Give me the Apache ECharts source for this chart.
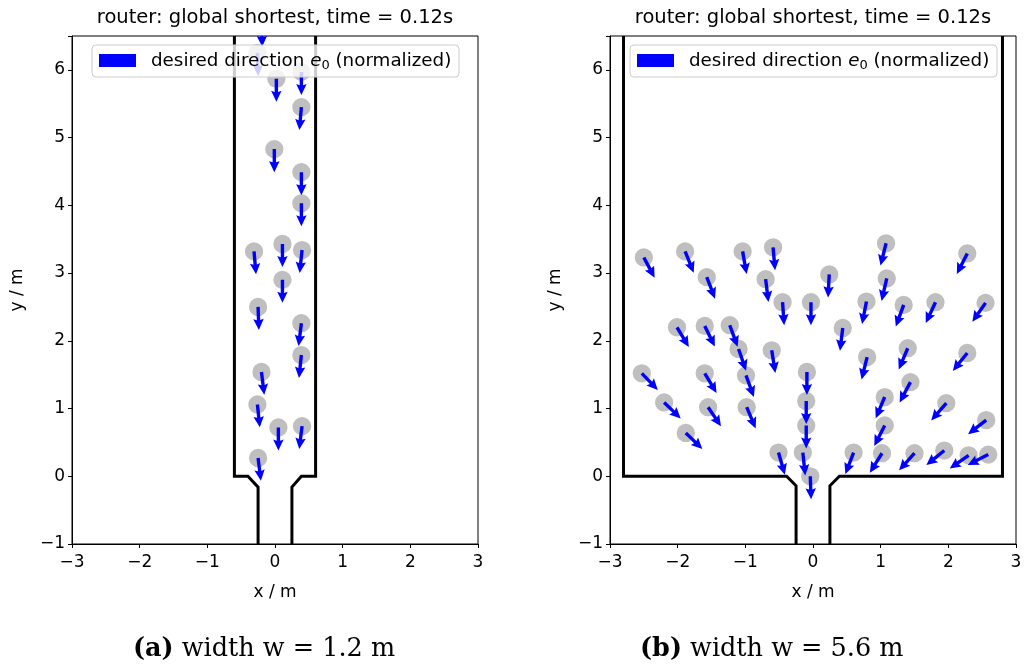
<!DOCTYPE html>
<html>
<head>
<meta charset="utf-8">
<script src="https://cdn.jsdelivr.net/npm/echarts@6/dist/echarts.min.js"></script>
<style>
html,body{margin:0;padding:0;background:#fff;}
#chart{width:1027px;height:668px;}
</style>
</head>
<body>
<div id="chart"></div>
<script>
// ---------- data ----------
const titles = ['router: global shortest, time = 0.12s', 'router: global shortest, time = 0.12s'];
const captionsBold = ['(a)', '(b)'];
const captionsText = [' width w = 1.2 m', ' width w = 5.6 m'];
const xTicks = [-3, -2, -1, 0, 1, 2, 3];
const yTicks = [-1, 0, 1, 2, 3, 4, 5, 6];
const xRange = [-3, 3];
const yRange = [-1, 6.5];

// walls: [x, y] polylines
const leftWallA = [[-0.6, 6.5], [-0.6, 0], [-0.4, 0], [-0.25, -0.16], [-0.25, -1]];
const leftWallB = [[0.6, 6.5], [0.6, 0], [0.39, 0], [0.25, -0.16], [0.25, -1]];
const rightWallA = [[-2.8, 6.5], [-2.8, 0], [-0.39, 0], [-0.25, -0.14], [-0.25, -1]];
const rightWallB = [[2.8, 6.5], [2.8, 0], [0.39, 0], [0.25, -0.14], [0.25, -1]];

// agents: [x, y, direction angle in degrees]
const leftAgents = [
  [-0.20, 6.68, -88], [-0.26, 6.25, -88], [0.02, 5.87, -90], [0.39, 5.97, -90],
  [0.39, 5.45, -95], [-0.01, 4.83, -90], [0.39, 4.49, -90], [0.39, 4.03, -90],
  [-0.31, 3.32, -85], [0.11, 3.43, -90], [0.40, 3.34, -96], [0.11, 2.90, -90],
  [-0.25, 2.50, -88], [0.39, 2.26, -97], [0.39, 1.79, -96], [-0.20, 1.54, -83],
  [-0.26, 1.06, -84], [0.05, 0.72, -90], [0.40, 0.74, -97], [-0.25, 0.27, -83]
];
const rightAgents = [
  [-2.50, 3.23, -62], [-1.89, 3.32, -68], [-1.57, 2.94, -69], [-1.04, 3.32, -80],
  [-0.59, 3.38, -85], [-0.70, 2.91, -83], [-0.45, 2.57, -86], [-0.03, 2.57, -90],
  [-2.01, 2.20, -59], [-1.60, 2.22, -64], [-1.23, 2.23, -70], [-1.10, 1.88, -71],
  [-0.61, 1.86, -81], [-2.53, 1.52, -46], [-1.60, 1.52, -59], [-0.99, 1.49, -70],
  [-0.09, 1.54, -90], [-2.20, 1.09, -44], [-1.55, 1.02, -56], [-0.98, 1.02, -67],
  [-1.88, 0.64, -44], [-0.51, 0.35, -74], [-0.10, 1.11, -90], [-0.10, 0.75, -90],
  [-0.15, 0.35, -84], [-0.04, 0.00, -88],
  [1.08, 3.44, -104], [2.28, 3.29, -117], [0.24, 2.98, -93], [1.09, 2.92, -103],
  [0.79, 2.58, -101], [1.34, 2.53, -110], [1.81, 2.57, -115], [2.55, 2.56, -125],
  [0.44, 2.19, -97], [0.80, 1.76, -104], [1.40, 1.89, -113], [2.28, 1.82, -129],
  [1.44, 1.39, -118], [1.06, 1.17, -113], [1.97, 1.08, -131], [2.56, 0.83, -142],
  [1.06, 0.75, -117], [0.60, 0.35, -111], [1.02, 0.34, -122], [1.50, 0.34, -132],
  [1.94, 0.38, -141], [2.30, 0.31, -145], [2.59, 0.32, -153]
];

// ---------- rendering ----------
const AGENT_R = 0.135;
const ARROW_LEN = 0.34;
const FONT = 'DejaVu Sans';
const fmt = v => String(v).replace('-', '\u2212');

function clipOf(params) {
  const cs = params.coordSys;
  return {type: 'rect', shape: {x: cs.x, y: cs.y, width: cs.width, height: cs.height}};
}
function circleItem(params, api) {
  const c = api.coord([api.value(0), api.value(1)]);
  const r = api.size([AGENT_R, 0])[0];
  return {type: 'group', clipPath: clipOf(params), children: [
    {type: 'circle', shape: {cx: c[0], cy: c[1], r: r}, style: {fill: '#bfbfbf'}}
  ]};
}
function arrowItem(params, api) {
  const x = api.value(0), y = api.value(1), a = api.value(2) * Math.PI / 180;
  const p0 = api.coord([x, y]);
  const p1 = api.coord([x + ARROW_LEN * Math.cos(a), y + ARROW_LEN * Math.sin(a)]);
  const dx = p1[0] - p0[0], dy = p1[1] - p0[1];
  const len = Math.hypot(dx, dy);
  const ux = dx / len, uy = dy / len, nx = -uy, ny = ux;
  const hw = 1.7, HW = 5.2, HL = 11;
  const bx = p1[0] - ux * HL, by = p1[1] - uy * HL;
  const nb = 1.2;
  const pts = [
    [p0[0] + nx * hw, p0[1] + ny * hw],
    [bx + ux * nb + nx * hw, by + uy * nb + ny * hw],
    [bx + nx * HW, by + ny * HW],
    [p1[0], p1[1]],
    [bx - nx * HW, by - ny * HW],
    [bx + ux * nb - nx * hw, by + uy * nb - ny * hw],
    [p0[0] - nx * hw, p0[1] - ny * hw]
  ];
  return {type: 'group', clipPath: clipOf(params), children: [
    {type: 'polygon', shape: {points: pts}, style: {fill: '#0000ff'}}
  ]};
}

const gridLefts = [72, 610];
const grids = gridLefts.map(l => ({left: l, top: 36, width: 406, height: 508, show: true,
  borderColor: '#000', borderWidth: 1, backgroundColor: 'transparent'}));

const xAxes = [0, 1].map(i => ({
  type: 'value', gridIndex: i, min: xRange[0], max: xRange[1], interval: 1,
  name: 'x / m', nameLocation: 'middle', nameGap: 40,
  nameTextStyle: {fontFamily: FONT, fontSize: 17, color: '#000'},
  axisLine: {show: true, onZero: false, lineStyle: {color: '#000', width: 1}},
  axisTick: {show: true, inside: false, length: 4, lineStyle: {color: '#000'}},
  axisLabel: {fontFamily: FONT, fontSize: 17, color: '#000', margin: 10, formatter: fmt},
  splitLine: {show: false}
}));
const yAxes = [0, 1].map(i => ({
  type: 'value', gridIndex: i, min: yRange[0], max: yRange[1], interval: 1,
  name: 'y / m', nameLocation: 'middle', nameGap: 46, nameRotate: 90,
  nameTextStyle: {fontFamily: FONT, fontSize: 17, color: '#000'},
  axisLine: {show: true, onZero: false, lineStyle: {color: '#000', width: 1}},
  axisTick: {show: true, inside: false, length: 4, lineStyle: {color: '#000'}},
  axisLabel: {fontFamily: FONT, fontSize: 17, color: '#000', margin: 7, formatter: v => (yTicks.includes(v) ? fmt(v) : '')},
  splitLine: {show: false}
}));

function wallSeries(data, i) {
  return {type: 'line', xAxisIndex: i, yAxisIndex: i, data: data, symbol: 'none', clip: true,
    lineStyle: {color: '#000', width: 3, join: 'miter'}, z: 4, silent: true, animation: false};
}
const series = [
  wallSeries(leftWallA, 0), wallSeries(leftWallB, 0),
  wallSeries(rightWallA, 1), wallSeries(rightWallB, 1),
  {type: 'custom', xAxisIndex: 0, yAxisIndex: 0, data: leftAgents, renderItem: circleItem, z: 2, animation: false, silent: true},
  {type: 'custom', xAxisIndex: 1, yAxisIndex: 1, data: rightAgents, renderItem: circleItem, z: 2, animation: false, silent: true},
  {type: 'custom', xAxisIndex: 0, yAxisIndex: 0, data: leftAgents, renderItem: arrowItem, z: 3, animation: false, silent: true},
  {type: 'custom', xAxisIndex: 1, yAxisIndex: 1, data: rightAgents, renderItem: arrowItem, z: 3, animation: false, silent: true}
];

const graphics = [];
gridLefts.forEach((gl, i) => {
  const bx = gl + 20;
  graphics.push({type: 'text', z: 101, x: gl + 203, y: 18, style: {
    text: titles[i], align: 'center', verticalAlign: 'middle',
    font: '19.5px "DejaVu Sans"', fill: '#000'
  }});
  graphics.push({type: 'rect', z: 100, shape: {x: bx, y: 45, width: 367, height: 32, r: 4},
    style: {fill: 'rgba(255,255,255,0.8)', stroke: '#cccccc', lineWidth: 1}});
  graphics.push({type: 'rect', z: 101, shape: {x: bx + 7, y: 54, width: 37, height: 13}, style: {fill: '#0000ff'}});
  graphics.push({type: 'text', z: 101, x: bx + 59, y: 61, style: {
    text: '{a|desired direction }{e|e}{s|0}{a| (normalized)}',
    verticalAlign: 'middle', fill: '#000',
    rich: {
      a: {fontFamily: FONT, fontSize: 18.3, lineHeight: 22, fill: '#000'},
      e: {fontFamily: FONT, fontSize: 18.3, fontStyle: 'italic', lineHeight: 22, fill: '#000'},
      s: {fontFamily: FONT, fontSize: 13, lineHeight: 16, verticalAlign: 'bottom', fill: '#000'}
    }
  }});
});
const capLefts = [133, 640];
capLefts.forEach((cl, i) => {
  graphics.push({type: 'text', z: 101, x: cl, y: 649, style: {
    text: '{b|' + captionsBold[i] + '}{n|' + captionsText[i] + '}',
    verticalAlign: 'middle',
    rich: {
      b: {fontFamily: 'DejaVu Serif', fontSize: 25.5, fontWeight: 'bold', fill: '#000'},
      n: {fontFamily: 'DejaVu Serif', fontSize: 25.5, fill: '#000'}
    }
  }});
});

const option = {
  backgroundColor: '#fff',
  animation: false,
  grid: grids,
  xAxis: xAxes,
  yAxis: yAxes,
  series: series,
  graphic: graphics
};

const chart = echarts.init(document.getElementById('chart'), null, {renderer: 'canvas'});
chart.setOption(option);
</script>
</body>
</html>
